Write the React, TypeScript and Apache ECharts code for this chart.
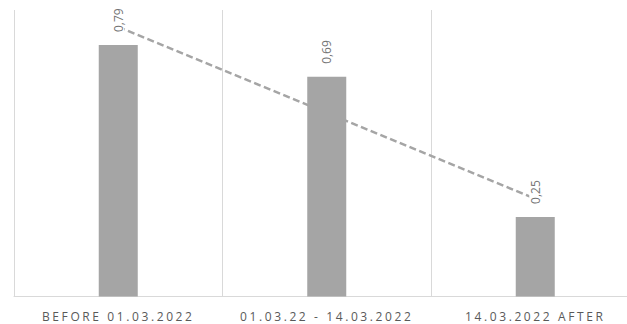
import React, { useEffect, useRef } from "react";
import * as echarts from "echarts";

// Categories and values
const categories = ["BEFORE 01.03.2022", "01.03.22 - 14.03.2022", "14.03.2022 AFTER"];
const barValues = [0.79, 0.69, 0.25];
// Linear trend line through the three periods
const trendValues = [0.847, 0.577, 0.307];

const AXIS_GREY = "#d9d9d9";
const BAR_GREY = "#a5a5a5";

export default function App() {
  const ref = useRef<HTMLDivElement>(null);

  useEffect(() => {
    document.body.style.margin = "0";
    if (!ref.current) return;
    const chart = echarts.init(ref.current, null, { renderer: "svg" });

    const option = {
      animation: false,
      backgroundColor: "#ffffff",
      // plot area runs a little past the visible right edge
      grid: { left: 14, top: 10, bottom: 27.5, right: 0.5, containLabel: false },
      xAxis: {
        type: "category",
        data: categories,
        boundaryGap: true,
        axisLine: { show: true, lineStyle: { color: AXIS_GREY, width: 1 } },
        axisTick: { show: false },
        splitLine: { show: true, interval: 0, lineStyle: { color: AXIS_GREY, width: 1 } },
        axisLabel: {
          interval: 0,
          margin: 14,
          color: "#595959",
          fontFamily: "Open Sans",
          fontSize: 12,
        },
      },
      yAxis: {
        type: "value",
        min: 0,
        max: 0.9,
        show: false,
        splitLine: { show: false },
      },
      series: [
        {
          type: "line",
          data: trendValues,
          z: 2,
          symbol: "none",
          silent: true,
          lineStyle: { color: BAR_GREY, width: 2.5, type: [7, 3.5] },
        },
        {
          type: "bar",
          data: barValues,
          z: 3,
          barWidth: 39,
          itemStyle: { color: BAR_GREY },
          label: {
            show: true,
            position: "top",
            distance: 11,
            rotate: 90,
            align: "left",
            verticalAlign: "middle",
            color: "#737373",
            fontFamily: "Open Sans",
            fontSize: 12,
            backgroundColor: "#ffffff",
            padding: [0, 2, 0, 2],
            formatter: (p: any) => p.value.toFixed(2).replace(".", ","),
          },
        },
      ],
    };

    chart.setOption(option);

    // Spaced-out category captions under the axis
    const spaceLabels = () => {
      const root = ref.current;
      if (!root) return;
      root.querySelectorAll("text").forEach((t) => {
        if (categories.includes((t.textContent || "").trim())) {
          t.setAttribute("letter-spacing", "2.6");
        }
      });
    };
    spaceLabels();
    chart.on("finished", spaceLabels);

    return () => {
      chart.dispose();
    };
  }, []);

  return (
    <div style={{ width: 627, height: 324, overflow: "hidden" }}>
      <div ref={ref} style={{ width: 640, height: 324 }} />
    </div>
  );
}
